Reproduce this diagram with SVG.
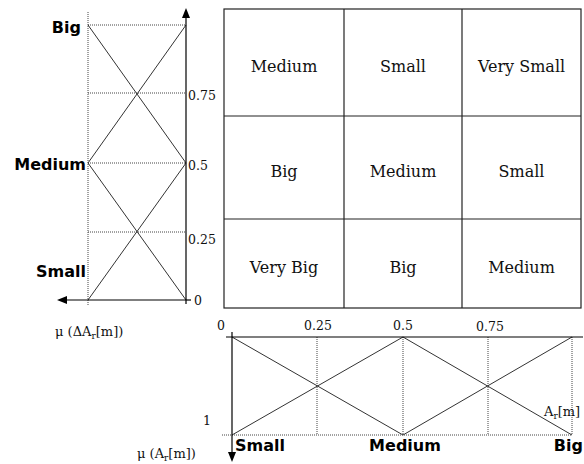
<svg xmlns="http://www.w3.org/2000/svg" width="584" height="464" viewBox="0 0 584 464">
<style>
.axis{stroke:#000;stroke-width:1.2;fill:none}
.dot{stroke:#444;stroke-width:1;stroke-dasharray:1,1;fill:none}
.mf{stroke:#333;stroke-width:1;fill:none}
.grid{stroke:#222;stroke-width:1.2;fill:none}
.cell{font-family:"DejaVu Serif","Liberation Serif",serif;font-size:16px;fill:#111;text-anchor:middle}
.tick{font-family:"DejaVu Serif","Liberation Serif",serif;font-size:12.5px;fill:#111}
.lab{font-family:"DejaVu Sans","Liberation Sans",sans-serif;font-weight:bold;font-size:16px;fill:#000}
.ax{font-family:"DejaVu Serif","Liberation Serif",serif;font-size:13px;fill:#111}
.head{fill:#000}
</style>
<rect width="584" height="464" fill="#fff"/>
<g id="rule-table">
<rect class="grid" x="224" y="9" width="357" height="299"/>
<line class="grid" x1="344" y1="9" x2="344" y2="308"/>
<line class="grid" x1="462" y1="9" x2="462" y2="308"/>
<line class="grid" x1="224" y1="116" x2="581" y2="116"/>
<line class="grid" x1="224" y1="219" x2="581" y2="219"/>
<text class="cell" x="284" y="72">Medium</text>
<text class="cell" x="403" y="72">Small</text>
<text class="cell" x="521.5" y="72">Very Small</text>
<text class="cell" x="284" y="177">Big</text>
<text class="cell" x="403" y="177">Medium</text>
<text class="cell" x="521.5" y="177">Small</text>
<text class="cell" x="284" y="273">Very Big</text>
<text class="cell" x="403" y="273">Big</text>
<text class="cell" x="521.5" y="273">Medium</text>
</g>
<g id="left-chart">
<line class="dot" x1="88" y1="12" x2="88" y2="306"/>
<line class="dot" x1="88" y1="25" x2="186" y2="25"/>
<line class="dot" x1="88" y1="93" x2="186" y2="93"/>
<line class="dot" x1="88" y1="163" x2="186" y2="163"/>
<line class="dot" x1="88" y1="232" x2="186" y2="232"/>
<line class="mf" x1="88" y1="25" x2="186" y2="163"/>
<line class="mf" x1="186" y1="25" x2="88" y2="163"/>
<line class="mf" x1="88" y1="163" x2="186" y2="300"/>
<line class="mf" x1="186" y1="163" x2="88" y2="300"/>
<text class="lab" x="81" y="33" text-anchor="end">Big</text>
<text class="lab" x="86" y="170" text-anchor="end">Medium</text>
<text class="lab" x="86" y="277" text-anchor="end">Small</text>
<text class="tick" x="188" y="100">0.75</text>
<text class="tick" x="188" y="170">0.5</text>
<text class="tick" x="188" y="244">0.25</text>
<text class="tick" x="194" y="305">0</text>
<text class="ax" x="55" y="336">μ (ΔA<tspan font-size="9" dy="3">r</tspan><tspan dy="-3">[m])</tspan></text>
</g>
<g id="bottom-chart">
<line class="dot" x1="222" y1="435" x2="572" y2="435"/>
<line class="dot" x1="317" y1="337" x2="317" y2="435"/>
<line class="dot" x1="403" y1="337" x2="403" y2="435"/>
<line class="dot" x1="488" y1="337" x2="488" y2="435"/>
<line class="dot" x1="572" y1="337" x2="572" y2="435"/>
<line class="mf" x1="232" y1="337" x2="403" y2="435"/>
<line class="mf" x1="232" y1="435" x2="403" y2="337"/>
<line class="mf" x1="403" y1="435" x2="572" y2="337"/>
<line class="mf" x1="403" y1="337" x2="572" y2="435"/>
<text class="tick" x="217" y="330">0</text>
<text class="tick" x="304" y="330">0.25</text>
<text class="tick" x="393" y="330">0.5</text>
<text class="tick" x="476" y="331">0.75</text>
<text class="tick" x="203" y="425">1</text>
<text class="ax" x="544" y="416">A<tspan font-size="9" dy="3">r</tspan><tspan dy="-3">[m]</tspan></text>
<text class="lab" x="235" y="451">Small</text>
<text class="lab" x="405" y="451" text-anchor="middle">Medium</text>
<text class="lab" x="583" y="451" text-anchor="end">Big</text>
<text class="ax" x="137" y="458">μ (A<tspan font-size="9" dy="3">r</tspan><tspan dy="-3">[m])</tspan></text>
</g>
<g id="connectors">
<line class="axis" x1="186" y1="16" x2="186" y2="304"/>
<line class="axis" x1="186" y1="300" x2="191" y2="300"/>
<line class="axis" x1="64" y1="300" x2="186" y2="300"/>
<polygon class="head" points="186,8 182,18 190,18"/>
<polygon class="head" points="57,300 67,296 67,304"/>
<line class="axis" x1="226" y1="337" x2="583" y2="337"/>
<line class="axis" x1="232" y1="332" x2="232" y2="454"/>
<polygon class="head" points="232,462 228,452 236,452"/>
</g>
</svg>
